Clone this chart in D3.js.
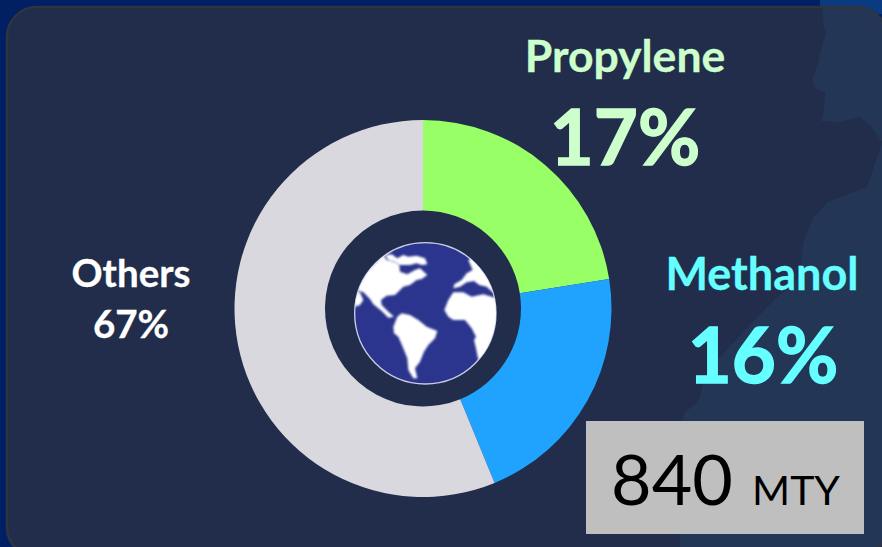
<!DOCTYPE html>
<html><head><meta charset="utf-8">
<script src="https://cdn.jsdelivr.net/npm/d3@7"></script>
<style>html,body{margin:0;padding:0;background:#012063;overflow:hidden}svg{display:block}text{font-family:Lato,"Open Sans",sans-serif}</style>
</head><body><svg id="c" width="882" height="547"></svg>
<script>
// Data
const categories = ["Propylene", "Methanol", "Others"];
const sliceShares = [22.5, 21.3, 56.2];        // share of the ring as drawn
const statedPercents = ["17%", "16%", "67%"]; // printed labels
const sliceColors = ["#99ff66", "#1fa3ff", "#d9d8de"];
const totalValue = "840";
const totalUnit = "MTY";

// Backdrop silhouette and globe artwork (decorative outlines, not data)
const coastTop = [[822,6],[824,27],[826,33],[823,43],[818,63],[812,80],[817,90],[825,92],[824,110],[821,121],[840,122],[860,117],[870,125],[882,142],[890,142],[890,0]];
const coastBottom = [[882,142],[867,187],[828,202],[813,218],[803,243],[800,277],[767,307],[712,365],[703,385],[698,402],[685,412],[680,430],[680,560],[890,560],[890,142]];
const lands = [
 [[110,250],[140,200],[190,150],[200,165],[225,172],[238,180],[240,200],[262,208],[285,195],[300,190],[322,210],[305,222],[290,225],[270,240],[250,245],[225,270],[200,272],[183,285],[185,300],[205,320],[222,335],[205,338],[185,318],[160,298],[150,282],[130,262],[118,258]],
 [[195,150],[215,148],[232,160],[250,150],[265,155],[290,152],[315,160],[322,178],[305,180],[290,175],[270,180],[240,180],[225,170],[205,165]],
 [[100,270],[118,258],[130,285],[120,300],[105,305]],
 [[220,365],[232,335],[245,325],[270,330],[295,345],[320,365],[352,378],[345,400],[325,420],[312,440],[300,470],[285,490],[292,520],[280,520],[265,495],[262,460],[248,425],[235,395],[222,385]],
 [[445,165],[458,195],[440,205],[425,225],[403,238],[400,250],[420,245],[440,232],[462,228],[478,240],[500,245],[518,262],[545,262],[530,190],[480,140]],
 [[373,315],[385,285],[400,262],[430,262],[455,275],[490,268],[530,280],[540,300],[530,420],[475,465],[468,430],[462,405],[468,395],[455,370],[435,345],[400,345],[385,335]]
];

const svg = d3.select("#c");
const defs = svg.append("defs");
defs.append("clipPath").attr("id","panelClip").append("rect")
  .attr("x",7).attr("y",7).attr("width",880).attr("height",550).attr("rx",30);
defs.append("clipPath").attr("id","globeClip").append("circle")
  .attr("cx",316).attr("cy",325).attr("r",212);
defs.append("filter").attr("id","soft").append("feGaussianBlur").attr("stdDeviation",2.5);

// outer band
svg.append("rect").attr("width",882).attr("height",547).attr("fill","#012063");
svg.append("rect").attr("x",820).attr("width",62).attr("height",14).attr("fill","#0a3a80");

// panel
svg.append("rect").attr("x",7).attr("y",7).attr("width",880).attr("height",550).attr("rx",30).attr("fill","#212d4a");
const back = svg.append("g").attr("clip-path","url(#panelClip)");
const outline = d3.line().curve(d3.curveLinear);
[coastTop, coastBottom].forEach(p => back.append("path").attr("d", outline(p)+"Z").attr("fill","#243655"));
svg.append("rect").attr("x",7).attr("y",7).attr("width",880).attr("height",550).attr("rx",30)
  .attr("fill","none").attr("stroke","#2f3540").attr("stroke-width",2.5);

// ring
const cx = 423, cy = 308.5;
const pie = d3.pie().sort(null).value(d => d);
const arc = d3.arc().innerRadius(98).outerRadius(188.5);
svg.append("g").attr("transform",`translate(${cx},${cy})`)
  .selectAll("path").data(pie(sliceShares)).join("path")
  .attr("d",arc).attr("fill",(d,i)=>sliceColors[i]);

// globe
const globe = svg.append("g").attr("transform","translate(320,205) scale(0.3333)");
globe.append("circle").attr("cx",316).attr("cy",325).attr("r",212).attr("fill","#2b358e").attr("stroke","#c9cce6").attr("stroke-width",4);
const landLine = d3.line().curve(d3.curveLinearClosed);
globe.append("g").attr("clip-path","url(#globeClip)").append("g").attr("filter","url(#soft)")
  .selectAll("path").data(lands).join("path")
  .attr("d",d=>landLine(d)).attr("fill","#fff");

// labels
function label(x,y,t,size,fill,weight,thick){
  return svg.append("text").attr("x",x).attr("y",y).attr("text-anchor","middle")
    .attr("font-size",size).attr("font-weight",weight||700).attr("fill",fill)
    .attr("stroke",thick?fill:"none").attr("stroke-width",thick||0).text(t);
}
label(625,72,categories[0],44.5,"#ccffcc",700,0.3);
label(625,165,statedPercents[0],76,"#ccffcc",700,1.4);
label(762,290,categories[1],45,"#66ffff",700,0.3);
label(763,383,statedPercents[1],76,"#66ffff",700,1.4);
label(131,287,categories[2],38.5,"#ffffff",700,0.3);
label(131,338,statedPercents[2],38.5,"#ffffff",700,0.3);

// total box
svg.append("rect").attr("x",586).attr("y",421).attr("width",278).attr("height",113).attr("fill","#bfbfbf");
label(672,505,totalValue,70,"#000",400);
label(796,505,totalUnit,41,"#000",400);
</script></body></html>
